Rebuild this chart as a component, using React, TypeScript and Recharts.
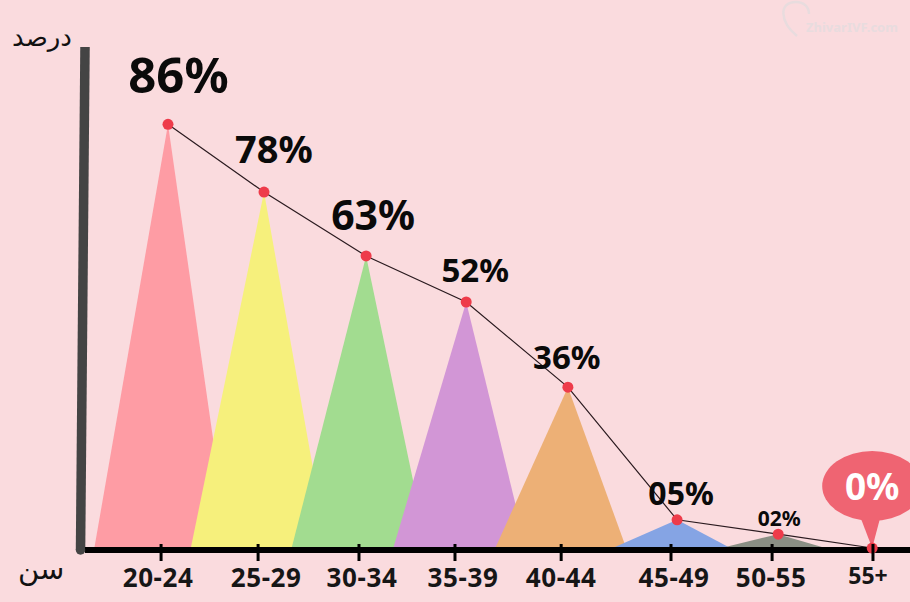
import React from "react";
import { Bar, ComposedChart, Line, ReferenceDot, ReferenceLine, XAxis, YAxis } from "recharts";

// Values. The drawn heights do not follow the printed
// percentages on a straight scale, so both are kept.
const ageLabels = ["20-24", "25-29", "30-34", "35-39", "40-44", "45-49", "50-55", "55+"];
const rateLabels = ["86%", "78%", "63%", "52%", "36%", "05%", "02%", "0%"];
const drawnHeights = [86, 72.3, 59.4, 50.1, 32.9, 6.1, 3.2, 0.4];
const peakAges = [20.34, 25.06, 30.08, 35.0, 40.0, 45.37, 50.34, 54.96];
const tickAges = [20, 24.77, 29.73, 34.45, 39.67, 45.07, 50.04, 55];

const chartData = ageLabels.map((label, i) => ({
  label,
  rate: rateLabels[i],
  peakAge: peakAges[i],
  height: drawnHeights[i],
}));

// ─── Styling per mark ────────────────────────────────────────────────────────

const FONT = "'Noto Sans', sans-serif";
const colors = ["#fe9ca4", "#f6f07c", "#a2dc90", "#d296d6", "#edb076", "#85a4e4", "#8a8f84", "none"];
const spreadLeft = [74, 73.6, 75, 73.5, 73.5, 69, 65, 0];
const spreadRight = [61, 63.5, 61.5, 60.5, 59, 57, 54, 0];
const labelSizes = [49, 38, 41, 33, 33, 32, 21, 37];
const labelNudgeX = [10.5, 10, 7, 9, -1, 4, 1, 0];
const labelNudgeY = [-50, -44, -42, -33, -31, -27, -16, -63];
const tickNudge = [-3, 8, 3, 8, 0, 3, -1, -5];

function Triangle(props: any) {
  const { x, y, width, height, index } = props;
  const cx = x + width / 2;
  const base = y + height;
  if (colors[index] === "none") return null;
  return (
    <path
      d={`M${cx - spreadLeft[index]},${base}L${cx},${y}L${cx + spreadRight[index]},${base}Z`}
      fill={colors[index]}
    />
  );
}

function PointDot(props: any) {
  const { cx, cy, index } = props;
  if (index === ageLabels.length - 1) {
    // the last point is a map-pin balloon holding the 0% label
    return (
      <g key={index}>
        <ellipse cx={cx} cy={cy - 62} rx={50} ry={35} fill="#ef6472" />
        <path d={`M${cx - 13},${cy - 34}L${cx},${cy}L${cx + 9},${cy - 34}Z`} fill="#ef6472" />
        <circle cx={cx} cy={cy} r={5.5} fill="#ee3b4a" />
      </g>
    );
  }
  return <circle key={index} cx={cx} cy={cy} r={5.5} fill="#ee3b4a" />;
}

function RateLabel(props: any) {
  const { x, y, index } = props;
  return (
    <text
      key={index}
      x={x + labelNudgeX[index]}
      y={y + labelNudgeY[index]}
      textAnchor="middle"
      dominantBaseline="central"
      fontFamily={FONT}
      fontWeight={700}
      fontSize={labelSizes[index]}
      fill={index === ageLabels.length - 1 ? "#ffffff" : "#0a0a0a"}
    >
      {rateLabels[index]}
    </text>
  );
}

function AgeTick(props: any) {
  const { x, y, index } = props;
  const axisY = y - 8;
  const isLast = index === ageLabels.length - 1;
  return (
    <g>
      <line x1={x} x2={x} y1={axisY - 6} y2={axisY + 11} stroke="#000" strokeWidth={3} />
      <text
        x={x + tickNudge[index]}
        y={axisY + (isLast ? 34 : 37)}
        textAnchor="middle"
        fontFamily={FONT}
        fontWeight={700}
        fontSize={isLast ? 23 : 26}
        letterSpacing={isLast ? 0 : 0.6}
        fill="#161616"
      >
        {ageLabels[index]}
      </text>
    </g>
  );
}

const persianText: React.CSSProperties = {
  position: "absolute",
  fontFamily: "'DejaVu Sans', sans-serif",
  color: "#111",
  direction: "rtl",
  whiteSpace: "nowrap",
  lineHeight: 1,
};

export default function App() {
  return (
    <div
      style={{
        position: "absolute",
        left: 0,
        top: 0,
        width: 910,
        height: 602,
        overflow: "hidden",
        background: "#fadbde",
      }}
    >
      <ComposedChart
        width={910}
        height={602}
        data={chartData}
        margin={{ top: 55, right: 0, bottom: 0, left: 85 }}
      >
        <XAxis
          dataKey="peakAge"
          type="number"
          scale="linear"
          domain={[16.26, 56.82]}
          ticks={tickAges}
          interval={0}
          height={52}
          axisLine={{ stroke: "#000", strokeWidth: 6 }}
          tickLine={false}
          tick={<AgeTick />}
        />
        <YAxis hide domain={[0, 100]} />
        <Bar dataKey="height" barSize={10} shape={<Triangle />} isAnimationActive={false} />
        <ReferenceLine
          segment={[
            { x: 16.26, y: 101.6 },
            { x: 16.04, y: 0 },
          ]}
          stroke="#444444"
          strokeWidth={9.5}
          ifOverflow="visible"
        />
        <ReferenceDot x={16.04} y={0} r={4.75} fill="#444444" stroke="none" ifOverflow="visible" />
        <Line
          dataKey="height"
          type="linear"
          stroke="#2a1a1f"
          strokeWidth={1.2}
          dot={PointDot}
          label={RateLabel}
          isAnimationActive={false}
        />
      </ComposedChart>

      <div style={{ ...persianText, left: 12, top: 24, fontSize: 26 }}>درصد</div>
      <div style={{ ...persianText, left: 18, top: 555, fontSize: 29 }}>سن</div>

      <svg width={130} height={50} style={{ position: "absolute", left: 780, top: 0 }}>
        <path
          d="M17,36 C0,22 -2,2 16,2 C24,2 29,7 29,14"
          fill="none"
          stroke="#e8dcde"
          strokeWidth={2.5}
        />
        <text x={26} y={32} fontFamily={FONT} fontWeight={700} fontSize={13} fill="#e8dcde">
          ZhivarIVF.com
        </text>
      </svg>
    </div>
  );
}
